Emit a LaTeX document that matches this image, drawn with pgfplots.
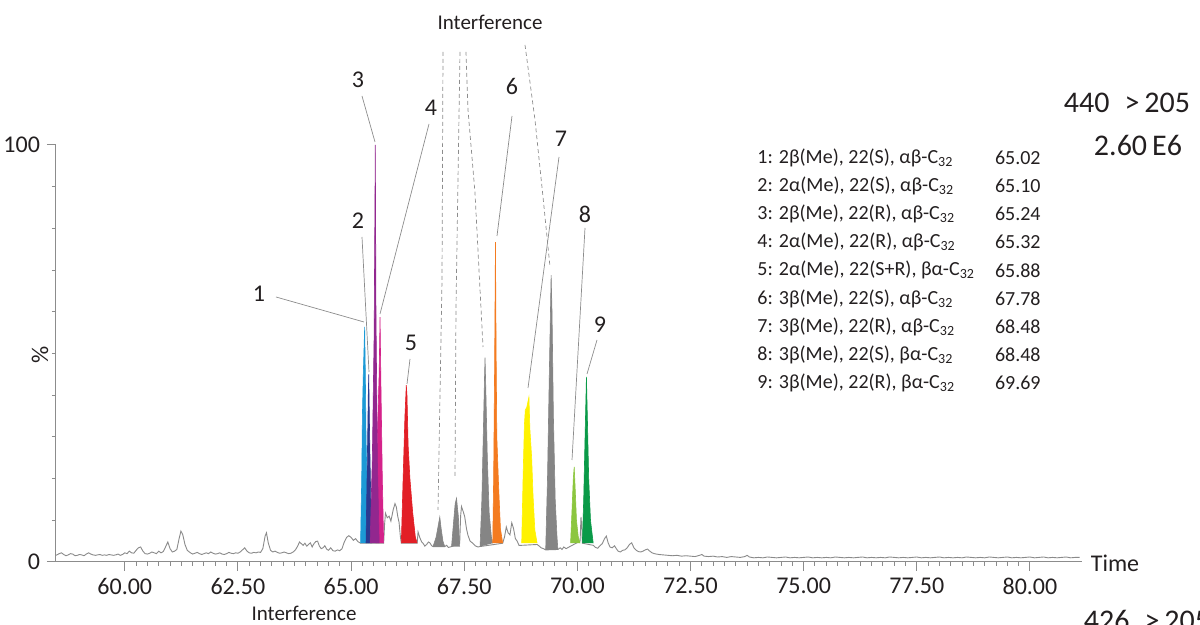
\documentclass[border=0pt]{standalone}
\usepackage{fontspec}
\setmainfont{Carlito}
\usepackage{pgfplots}
\pgfplotsset{compat=1.18}
\definecolor{axisgray}{HTML}{8C8C8C}
\definecolor{traceGray}{HTML}{8A8A8A}
\definecolor{peakGray}{HTML}{858585}
\definecolor{txt}{HTML}{231F20}
\definecolor{cBlue}{HTML}{1C9AD6}
\definecolor{cNavy}{HTML}{2B3990}
\definecolor{cPurple}{HTML}{92278F}
\definecolor{cMagenta}{HTML}{D4228A}
\definecolor{cRed}{HTML}{E21F26}
\definecolor{cOrange}{HTML}{F47B20}
\definecolor{cYellow}{HTML}{FFF200}
\definecolor{cLime}{HTML}{8CC63F}
\definecolor{cGreen}{HTML}{0A9A48}
\newcommand{\fs}[1]{\fontsize{#1}{#1}\selectfont}
\begin{document}
\begin{tikzpicture}
\begin{axis}[
  at={(0,0)}, anchor=south west,
  scale only axis, width=513pt, height=208.5pt,
  xmin=58.48, xmax=81.15, ymin=0, ymax=100,
  axis lines*=left,
  axis line style={draw=axisgray, line width=0.5pt},
  every tick/.style={draw=axisgray, line width=0.5pt},
  tick align=outside,
  major tick length=4.5pt, minor tick length=2pt,
  xtick={60,62.5,65,67.5,70,72.5,75,77.5,80},
  xticklabels={60.00,62.50,65.00,67.50,70.00,72.50,75.00,77.50,80.00},
  minor x tick num=9,
  ytick={0,100}, yticklabels={0,100},
  minor ytick={10,20,30,40,50,60,70,80,90},
  tick label style={font=\fs{12}, text=txt},
  clip=false,
]
% gray trace
\addplot[color=traceGray, line width=0.45pt] coordinates {
(58.48,1.6)(58.55,2.0)(58.60,2.2)(58.65,1.8)(58.70,1.5)(58.75,1.7)(58.80,2.0)(58.85,1.9)(58.90,1.5)(58.95,1.6)
(59.00,1.8)(59.05,1.7)(59.10,1.5)(59.15,1.9)(59.20,2.2)(59.25,1.9)(59.30,1.7)(59.35,1.6)(59.40,1.7)(59.45,1.8)
(59.50,1.6)(59.55,1.7)(59.60,1.6)(59.65,1.8)(59.70,1.7)(59.75,1.6)(59.80,1.7)(59.85,1.9)(59.90,1.6)(59.95,1.8)
(60.00,2.2)(60.05,2.0)(60.10,2.6)(60.15,2.2)(60.20,2.1)(60.25,2.8)(60.30,3.4)(60.35,3.6)(60.40,2.6)(60.45,2.0)
(60.50,1.9)(60.55,2.1)(60.60,2.4)(60.65,2.2)(60.70,2.0)(60.75,2.6)(60.80,2.2)(60.85,2.5)(60.90,3.6)(60.95,4.8)
(61.00,3.2)(61.05,2.4)(61.10,2.6)(61.15,3.0)(61.20,5.6)(61.24,7.4)(61.28,6.6)(61.33,4.2)(61.38,2.8)(61.45,2.2)
(61.50,1.9)(61.55,2.1)(61.60,2.3)(61.65,2.0)(61.70,1.8)(61.75,2.0)(61.80,2.2)(61.85,2.0)(61.90,2.4)(61.95,2.1)
(62.00,1.9)(62.05,2.0)(62.10,2.2)(62.15,1.9)(62.20,1.8)(62.25,2.0)(62.30,2.3)(62.35,2.1)(62.40,2.0)(62.45,2.2)
(62.50,2.1)(62.55,2.4)(62.60,2.9)(62.65,3.4)(62.70,2.6)(62.75,2.2)(62.80,2.1)(62.85,2.3)(62.90,2.2)(62.95,2.4)
(63.00,2.3)(63.05,3.2)(63.10,6.2)(63.13,7.0)(63.17,4.6)(63.22,2.8)(63.27,2.4)(63.32,2.6)(63.37,2.3)(63.42,2.1)
(63.47,2.2)(63.52,2.4)(63.57,2.2)(63.62,2.0)(63.67,2.1)(63.72,2.4)(63.77,2.9)(63.82,3.8)(63.86,4.8)(63.90,4.4)
(63.94,4.0)(63.98,4.5)(64.02,3.8)(64.06,4.2)(64.10,4.6)(64.14,3.6)(64.18,4.4)(64.22,4.9)(64.26,5.0)(64.30,3.8)
(64.34,3.2)(64.38,3.4)(64.42,3.9)(64.46,3.1)(64.50,2.8)(64.55,3.4)(64.60,2.7)(64.65,2.6)(64.70,2.9)(64.75,2.7)
(64.80,3.2)(64.85,4.8)(64.90,5.9)(64.95,6.3)(65.00,5.9)(65.05,5.2)(65.10,5.6)(65.15,4.9)(65.21,4.5)(65.72,4.5)
(65.74,9.0)(65.76,11.7)(65.80,10.6)(65.84,11.0)(65.88,9.8)(65.93,12.5)(65.97,14.0)(66.00,13.2)(66.03,11.0)(66.06,9.5)
(66.09,6.0)(66.11,4.5)(66.46,4.5)(66.48,7.2)(66.52,5.8)(66.56,4.8)(66.59,4.5)(66.63,3.8)(66.67,4.2)(66.71,4.8)
(66.74,4.6)(66.78,3.9)(66.81,3.7)(67.07,3.7)(67.11,4.0)(67.15,3.5)(67.19,3.6)(67.22,3.7)(67.40,4.5)(67.42,11.0)
(67.44,13.3)(67.48,12.0)(67.51,10.9)(67.55,8.0)(67.58,6.5)(67.63,5.0)(67.69,4.5)(67.74,3.9)(67.80,3.6)(67.85,3.7)
(68.35,4.5)(68.39,6.0)(68.43,8.4)(68.47,7.0)(68.51,6.5)(68.55,9.4)(68.59,8.0)(68.63,5.6)(68.67,5.0)(68.71,4.0)
(68.77,4.0)(69.11,4.2)(69.16,3.8)(69.20,3.4)(69.25,3.2)(69.30,2.9)(69.57,3.0)(69.62,3.4)(69.66,3.0)(69.70,3.6)
(69.75,3.2)(69.80,3.5)(69.85,3.8)(70.06,5.0)(70.08,10.8)(70.10,8.0)(70.11,4.5)(70.35,4.0)(70.40,3.5)(70.45,3.3)
(70.50,3.9)(70.55,4.4)(70.60,5.6)(70.64,6.2)(70.68,4.6)(70.72,3.6)(70.77,3.4)(70.82,3.9)(70.86,3.2)(70.90,2.6)
(70.95,2.4)(71.00,2.8)(71.05,2.9)(71.10,3.4)(71.15,4.2)(71.20,4.6)(71.25,3.4)(71.30,2.8)(71.35,2.5)(71.40,2.4)
(71.45,2.6)(71.50,2.9)(71.55,3.1)(71.60,2.6)(71.65,2.2)(71.70,2.0)(71.75,1.9)(71.80,1.8)(71.90,1.7)(72.00,1.6)
(72.10,1.5)(72.20,1.6)(72.30,1.4)(72.40,1.5)(72.50,1.4)(72.60,1.3)(72.70,1.6)(72.75,1.8)(72.80,1.4)(72.90,1.3)
(73.00,1.4)(73.10,1.2)(73.20,1.3)(73.30,1.1)(73.40,1.3)(73.50,1.2)(73.60,1.1)(73.70,1.3)(73.75,1.6)(73.80,1.2)
(73.90,1.0)(74.00,1.1)(74.10,1.0)(74.20,1.2)(74.30,1.1)(74.40,1.0)(74.50,1.1)(74.60,1.2)(74.70,1.0)(74.80,1.1)
(74.90,1.0)(75.00,1.1)(75.10,1.2)(75.20,1.0)(75.30,1.1)(75.40,1.0)(75.50,1.1)(75.60,1.0)(75.70,1.2)(75.80,1.1)
(75.90,1.0)(76.00,1.1)(76.10,1.0)(76.20,1.1)(76.30,1.2)(76.40,1.0)(76.50,1.1)(76.60,1.0)(76.70,1.1)(76.80,1.0)
(76.90,1.2)(77.00,1.1)(77.10,1.0)(77.20,1.1)(77.30,1.0)(77.40,1.1)(77.50,1.2)(77.60,1.0)(77.70,1.1)(77.80,1.0)
(77.90,1.1)(78.00,1.2)(78.10,1.0)(78.20,1.1)(78.30,1.0)(78.40,1.1)(78.50,1.0)(78.60,1.2)(78.70,1.1)(78.80,1.0)
(78.90,1.1)(79.00,1.0)(79.10,1.2)(79.20,1.1)(79.30,1.0)(79.40,1.1)(79.50,1.2)(79.60,1.0)(79.70,1.1)(79.80,1.0)
(79.90,1.1)(80.00,1.2)(80.10,1.0)(80.20,1.1)(80.30,1.2)(80.40,1.0)(80.50,1.1)(80.60,1.0)(80.70,1.1)(80.80,1.2)
(80.90,1.0)(81.00,1.1)(81.10,1.1)
};
% gray interference peaks
\addplot[fill=peakGray, draw=peakGray, line width=0.3pt] coordinates {(66.81,3.7)(66.88,6)(66.93,9)(66.96,10.8)(66.99,8)(67.03,5)(67.07,3.7)};
\addplot[fill=peakGray, draw=peakGray, line width=0.3pt] coordinates {(67.22,3.7)(67.26,9)(67.30,14)(67.33,15.3)(67.35,13)(67.37,11)(67.40,3.7)};
\addplot[fill=peakGray, draw=peakGray, line width=0.3pt] coordinates {(67.85,3.7)(67.89,15)(67.92,30)(67.95,45)(67.96,49)(67.98,40)(68.01,25)(68.05,12)(68.10,6)(68.13,4.5)};
\addplot[fill=peakGray, draw=peakGray, line width=0.3pt] coordinates {(69.30,2.9)(69.34,20)(69.38,45)(69.42,68.8)(69.44,60)(69.47,35)(69.51,15)(69.55,6)(69.57,2.9)};
% coloured peaks
\addplot[fill=cBlue, draw=cBlue, line width=0.3pt] coordinates {(65.21,4.5)(65.235,20)(65.25,35)(65.27,45)(65.30,56.4)(65.315,45)(65.33,30)(65.36,15)(65.40,4.5)};
\addplot[fill=cNavy, draw=cNavy, line width=0.3pt] coordinates {(65.33,4.5)(65.36,25)(65.38,40)(65.39,45)(65.41,30)(65.44,12)(65.46,4.5)};
\addplot[fill=cMagenta, draw=cMagenta, line width=0.3pt] coordinates {(65.55,4.5)(65.58,30)(65.62,45)(65.64,58.7)(65.66,42)(65.69,20)(65.72,4.5)};
\addplot[fill=cPurple, draw=cPurple, line width=0.3pt] coordinates {(65.42,4.5)(65.47,25)(65.51,55)(65.535,100)(65.55,60)(65.58,25)(65.62,4.5)};
\addplot[fill=cRed, draw=cRed, line width=0.3pt] coordinates {(66.11,4.5)(66.15,20)(66.19,35)(66.22,42.4)(66.235,40)(66.26,28)(66.30,20)(66.36,12)(66.42,6)(66.46,4.5)};
\addplot[fill=cOrange, draw=cOrange, line width=0.3pt] coordinates {(68.13,4.5)(68.15,20)(68.17,45)(68.19,76.7)(68.205,50)(68.22,30)(68.26,18)(68.30,8)(68.35,4.5)};
\addplot[fill=cYellow, draw=cYellow, line width=0.3pt] coordinates {(68.77,4.5)(68.80,20)(68.83,33)(68.85,36.5)(68.88,37)(68.93,39.6)(68.95,32)(68.99,25)(69.02,16)(69.06,7.7)(69.11,4.5)};
\addplot[fill=cLime, draw=cLime, line width=0.3pt] coordinates {(69.85,4.5)(69.88,12)(69.91,20)(69.93,22.8)(69.95,18)(69.98,10)(70.02,6)(70.06,4.5)};
\addplot[fill=cGreen, draw=cGreen, line width=0.3pt] coordinates {(70.11,4.5)(70.14,15)(70.17,30)(70.20,44.4)(70.22,35)(70.25,20)(70.29,10)(70.35,4.5)};
\end{axis}
% annotations in pixel coordinates of the reference
\begin{scope}[x=0.5pt,y=-0.5pt,shift={(-28pt,281pt)}]
  \node[rotate=90, font=\fs{12}, text=txt] at (40,355) {\%};
  % leader lines
  \begin{scope}[draw=axisgray, line width=0.35pt]
    \draw (276,297) -- (364,322);
    \draw (362,237) -- (369,372);
    \draw (362,96) -- (375,142);
    \draw (429,124) -- (380,314);
    \draw (410,359) -- (407,384);
    \draw (512,116) -- (497,236);
    \draw (559,157) -- (528,388);
    \draw (585,228) -- (572,460);
    \draw (597,340) -- (587,374);
  \end{scope}
  \begin{scope}[draw=axisgray, line width=0.35pt, dash pattern=on 2pt off 1.5pt]
    \draw (443,52) -- (442,280) -- (438,510);
    \draw (460,52) -- (456,307) -- (455,477);
    \draw (466,52) -- (468,110) -- (475,193) -- (483,347);
    \draw (525,45) -- (535,120) -- (543,197) -- (550,267);
  \end{scope}
  \begin{scope}[font=\fs{12}, text=txt]
    \node at (259,294) {1};
    \node at (358,221) {2};
    \node at (358,80) {3};
    \node at (431,108) {4};
    \node at (411,343) {5};
    \node at (512,86) {6};
    \node at (561,139) {7};
    \node at (585,214) {8};
    \node at (600,325) {9};
  \end{scope}
  \node[font=\fs{10.5}, text=txt] at (490,22) {Interference};
  \node[font=\fs{10.5}, text=txt] at (304,613) {Interference};
  \node[font=\fs{12}, text=txt] at (1115,563) {Time};
  \node[font=\fs{15}, text=txt] at (1127,103) {440\,\,\,>\,205};
  \node[font=\fs{15}, text=txt] at (1138,145) {2.60\,E6};
  \node[font=\fs{15}, text=txt] at (1147,620) {426\,\,\,>\,205};
  % legend block
  \begin{scope}[font=\fs{10}, text=txt]
    \foreach \lab/\rt [count=\i from 0] in {
      {1: 2β(Me), 22(S), αβ-C\textsubscript{32}}/65.02,
      {2: 2α(Me), 22(S), αβ-C\textsubscript{32}}/65.10,
      {3: 2β(Me), 22(R), αβ-C\textsubscript{32}}/65.24,
      {4: 2α(Me), 22(R), αβ-C\textsubscript{32}}/65.32,
      {5: 2α(Me), 22(S+R), βα-C\textsubscript{32}}/65.88,
      {6: 3β(Me), 22(S), αβ-C\textsubscript{32}}/67.78,
      {7: 3β(Me), 22(R), αβ-C\textsubscript{32}}/68.48,
      {8: 3β(Me), 22(S), βα-C\textsubscript{32}}/68.48,
      {9: 3β(Me), 22(R), βα-C\textsubscript{32}}/69.69}{
      \node[anchor=west, inner sep=0pt] at (757,158+28.1*\i) {\lab};
      \node[anchor=east, inner sep=0pt] at (1041,158+28.1*\i) {\rt};
    }
  \end{scope}
\end{scope}
\pgfresetboundingbox
\path[use as bounding box] (-28pt,-31.5pt) rectangle (572pt,281pt);
\end{tikzpicture}
\end{document}
